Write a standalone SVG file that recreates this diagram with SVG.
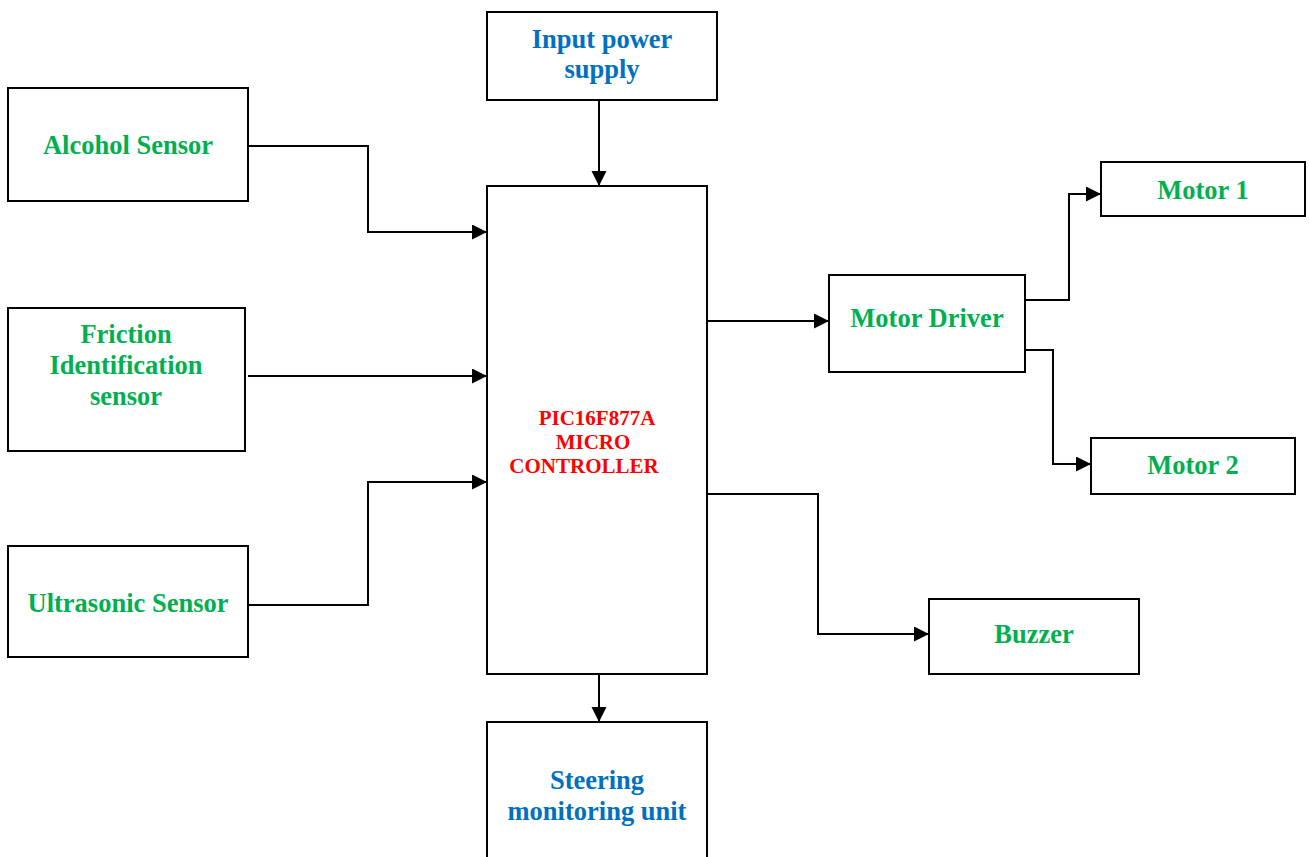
<svg xmlns="http://www.w3.org/2000/svg" width="1309" height="857" viewBox="0 0 1309 857">
<style>
.box{fill:#fff;stroke:#000;stroke-width:2}
.t{font-family:"Liberation Serif","Times New Roman",serif;font-weight:bold;text-anchor:middle}
.g{fill:#00B050;font-size:26.5px}
.b{fill:#0070C0;font-size:26.5px}
.r{fill:#FF0000;font-size:21px}
.c{fill:none;stroke:#000;stroke-width:2;marker-end:url(#ah)}
</style>
<defs>
<marker id="ah" markerWidth="16" markerHeight="16" refX="15" refY="7.5" orient="auto" markerUnits="userSpaceOnUse">
<path d="M0,0 L15,7.5 L0,15 Z" fill="#000"/>
</marker>
</defs>
<rect width="1309" height="857" fill="#fff"/>
<g id="connectors">
<path class="c" d="M248,146 H368 V232 H487"/>
<path class="c" d="M248,376 H487"/>
<path class="c" d="M248,605 H368 V482 H487"/>
<path class="c" d="M599,100 V186"/>
<path class="c" d="M599,674 V722"/>
<path class="c" d="M707,321 H829"/>
<path class="c" d="M1025,300 H1069 V194 H1101"/>
<path class="c" d="M1025,350 H1053 V464 H1091"/>
<path class="c" d="M707,494 H818 V634 H929"/>
</g>
<g id="input-power">
<rect class="box" x="487" y="12" width="230" height="88"/>
<text class="t b" x="602" y="48">Input power</text>
<text class="t b" x="602" y="78">supply</text>
</g>
<g id="alcohol">
<rect class="box" x="8" y="88" width="240" height="113"/>
<text class="t g" x="128" y="154">Alcohol Sensor</text>
</g>
<g id="friction">
<rect class="box" x="8" y="308" width="237" height="143"/>
<text class="t g" x="126" y="343">Friction</text>
<text class="t g" x="126" y="374">Identification</text>
<text class="t g" x="126" y="405">sensor</text>
</g>
<g id="ultrasonic">
<rect class="box" x="8" y="546" width="240" height="111"/>
<text class="t g" x="128" y="612">Ultrasonic Sensor</text>
</g>
<g id="micro">
<rect class="box" x="487" y="186" width="220" height="488"/>
<text class="t r" x="597" y="425">PIC16F877A</text>
<text class="t r" x="593" y="449">MICRO</text>
<text class="t r" x="584" y="473">CONTROLLER</text>
</g>
<g id="motor-driver">
<rect class="box" x="829" y="275" width="196" height="97"/>
<text class="t g" x="927" y="327">Motor Driver</text>
</g>
<g id="motor1">
<rect class="box" x="1101" y="162" width="204" height="54"/>
<text class="t g" x="1203" y="199">Motor 1</text>
</g>
<g id="motor2">
<rect class="box" x="1091" y="438" width="204" height="56"/>
<text class="t g" x="1193" y="474">Motor 2</text>
</g>
<g id="buzzer">
<rect class="box" x="929" y="599" width="210" height="75"/>
<text class="t g" x="1034" y="643">Buzzer</text>
</g>
<g id="steering">
<rect class="box" x="487" y="722" width="220" height="140"/>
<text class="t b" x="597" y="789">Steering</text>
<text class="t b" x="597" y="820">monitoring unit</text>
</g>
</svg>
